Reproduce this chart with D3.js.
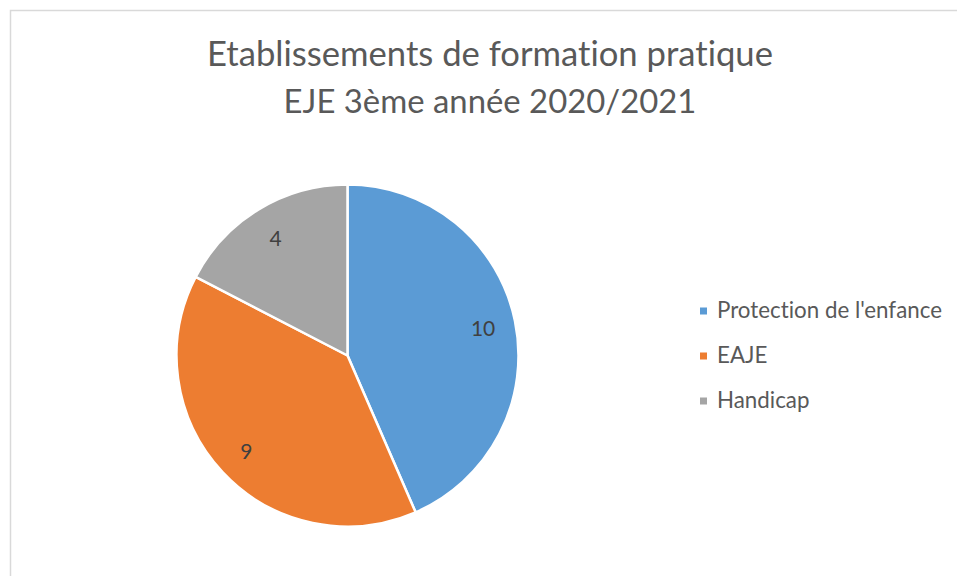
<!DOCTYPE html>
<html>
<head>
<meta charset="utf-8">
<script src="https://cdn.jsdelivr.net/npm/d3@7"></script>
<style>
  html, body { margin: 0; padding: 0; background: #fff; }
  svg { display: block; }
  text { font-family: Lato, "Open Sans", sans-serif; font-variant-ligatures: none; font-feature-settings: "liga" 0; }
</style>
</head>
<body>
<svg id="chart" width="957" height="576"></svg>
<script>
const titleLines = ["Etablissements de formation pratique", "EJE 3ème année 2020/2021"];
const categories = ["Protection de l'enfance", "EAJE", "Handicap"];
const values = [10, 9, 4];
const colors = ["#5B9BD5", "#ED7D31", "#A5A5A5"];

const svg = d3.select("#chart");
const W = 957, H = 576;

svg.append("rect").attr("x", 0).attr("y", 0).attr("width", W).attr("height", H).attr("fill", "#fff");
svg.append("rect")
  .attr("x", 10.5).attr("y", 10.5)
  .attr("width", W + 20).attr("height", H + 20)
  .attr("fill", "none").attr("stroke", "#d9d9d9").attr("stroke-width", 1.5);

function fitText(sel, targetWidth, maxSize) {
  sel.attr("font-size", 100);
  const w = sel.node().getComputedTextLength();
  const fs = Math.min(maxSize, 100 * targetWidth / w);
  sel.attr("font-size", fs);
  return fs;
}

// Title
const titleWidths = [566, 413];
const titleBaselines = [66, 113];
titleLines.forEach((t, i) => {
  const txt = svg.append("text")
    .attr("x", 490).attr("y", titleBaselines[i])
    .attr("text-anchor", "middle")
    .attr("fill", "#595959")
    .text(t);
  fitText(txt, titleWidths[i], 40);
});

// Pie
const cx = 347.5, cy = 355.5, r = 171;
const pie = d3.pie().sort(null).value(d => d.value);
const data = categories.map((c, i) => ({ cat: c, value: values[i], color: colors[i] }));
const arcs = pie(data);
const arc = d3.arc().innerRadius(0).outerRadius(r);
const g = svg.append("g").attr("transform", `translate(${cx},${cy})`);
g.selectAll("path").data(arcs).enter().append("path")
  .attr("d", arc)
  .attr("fill", d => d.data.color)
  .attr("stroke", "#fff")
  .attr("stroke-width", 2.5)
  .attr("stroke-linejoin", "round");

const labelArc = d3.arc().innerRadius(r * 0.81).outerRadius(r * 0.81);
g.selectAll("text.lbl").data(arcs).enter().append("text")
  .attr("class", "lbl")
  .attr("x", d => labelArc.centroid(d)[0])
  .attr("y", d => labelArc.centroid(d)[1])
  .attr("text-anchor", "middle")
  .attr("dominant-baseline", "central")
  .attr("font-size", 21)
  .attr("fill", "#404040")
  .text(d => d.data.value);

// Legend
const legendY = d3.scalePoint().domain(categories).range([311, 401]);
const lg = svg.append("g");
categories.forEach((c, i) => {
  const y = legendY(c);
  lg.append("rect")
    .attr("x", 700).attr("y", y - 3.5)
    .attr("width", 7).attr("height", 7)
    .attr("fill", colors[i]);
  const t = lg.append("text")
    .attr("x", 717).attr("y", y + 7)
    .attr("fill", "#595959")
    .text(c);
  if (i === 0) t.attr("data-fit", 1);
});
const first = lg.select("text[data-fit]");
const fs = fitText(first, 225, 24);
lg.selectAll("text").attr("font-size", fs);
</script>
</body>
</html>
